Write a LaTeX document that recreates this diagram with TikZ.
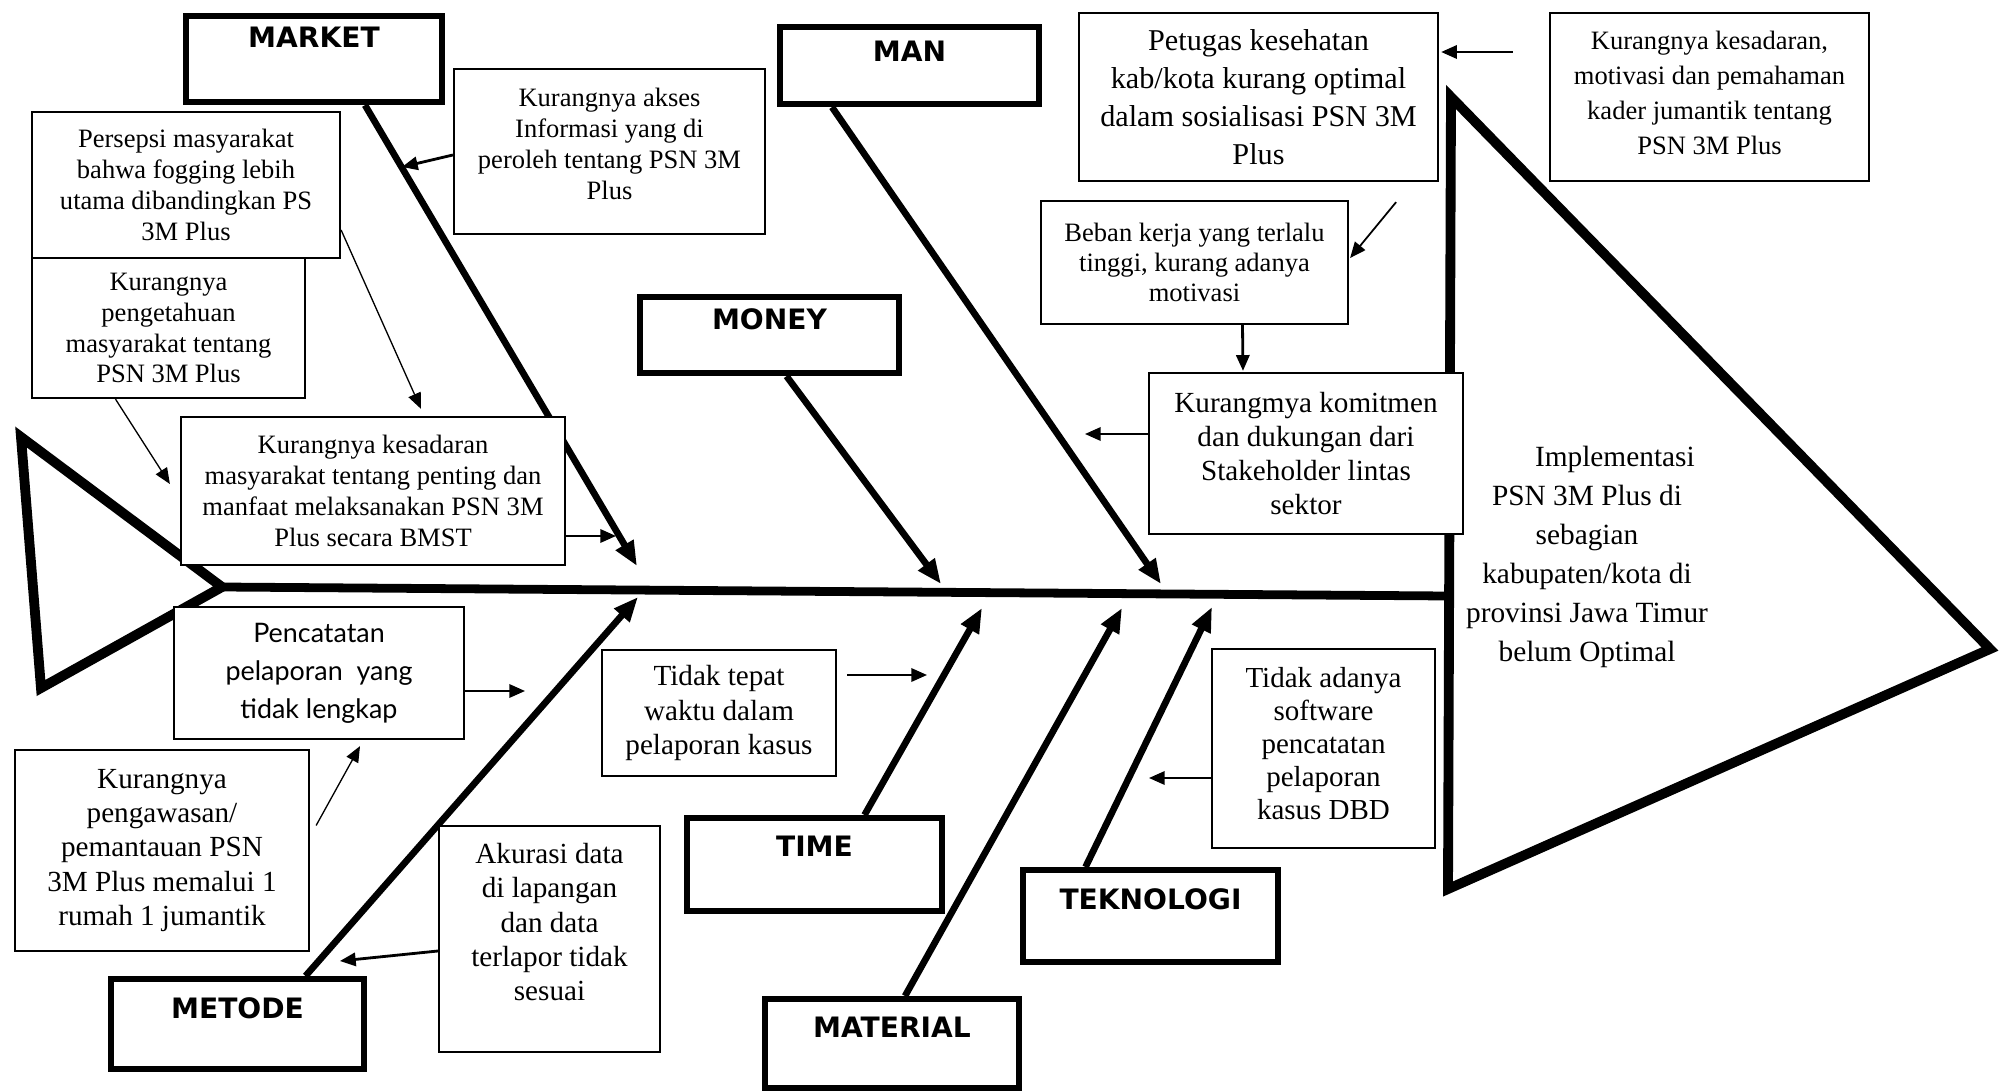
\documentclass[tikz,border=0pt]{standalone}
\usepackage{fontspec}
\setmainfont{Liberation Serif}
\newfontfamily\headfont{DejaVu Sans}
\newfontfamily\gillfont{Lato}
\usetikzlibrary{arrows.meta,calc}

\begin{document}
\begin{tikzpicture}[x=0.02cm,y=-0.02cm,>={Triangle[length=9pt,width=7.5pt]}]
\tikzstyle{cause}=[rectangle,draw,line width=1.3pt,fill=white,align=center,inner sep=0pt]
\tikzstyle{head}=[rectangle,draw,line width=3.5pt,fill=white,inner sep=0pt,anchor=north,font=\headfont\bfseries\fontsize{16}{18}\selectfont]
\tikzstyle{bone}=[line width=3.8pt,-{Triangle[length=14pt,width=11pt]}]
\tikzstyle{small}=[font=\fontsize{15.1}{17.6}\selectfont]
\tikzstyle{medium}=[font=\fontsize{16.6}{19.4}\selectfont]
\tikzstyle{link}=[->,line width=1.6pt]
\tikzstyle{thin}=[->,line width=0.75pt]
\useasboundingbox (0,0) rectangle (2002,1091);

% fish
\draw[line width=5.6pt] (21,437) -- (41,688) -- (222,587) -- cycle;
\draw[line width=5.6pt] (1451,97) -- (1990,649) -- (1448,889) -- cycle;
\draw[line width=5pt] (222,587) -- (1448,596);
\node[font=\fontsize{16.7}{22.2}\selectfont,align=center](effect) at (1587,557) {\hspace*{1.9em}Implementasi\\PSN 3M Plus di\\sebagian\\kabupaten/kota di\\provinsi Jawa Timur\\belum Optimal};

% categories
\node[head,minimum width=5.12cm,text height=0.63cm,text depth=1.09cm](market) at (314,13) {MARKET};
\node[head,minimum width=5.18cm,text height=0.69cm,text depth=0.85cm](man) at (909.5,24) {MAN};
\node[head,minimum width=5.18cm,text height=0.65cm,text depth=0.87cm](money) at (769.5,294) {MONEY};
\node[head,minimum width=5.10cm,text height=0.77cm,text depth=1.09cm](time) at (814.5,815) {TIME};
\node[head,minimum width=5.10cm,text height=0.79cm,text depth=1.05cm](teknologi) at (1150.5,867) {TEKNOLOGI};
\node[head,minimum width=5.08cm,text height=0.77cm,text depth=1.01cm](material) at (892,996) {MATERIAL};
\node[head,minimum width=5.06cm,text height=0.79cm,text depth=1.01cm](metode) at (237.5,976) {METODE};

\coordinate (mkttip) at (637,566);
\coordinate (mantip) at (1161,584);
\coordinate (montip) at (941,584);
\coordinate (mettip) at (638,597);
\coordinate (timtip) at (982,608);
\coordinate (mattip) at (1122,608);
\coordinate (tektip) at (1212,607);

\draw[bone] ($(market.south)+(51,0)$) -- (mkttip);
\draw[bone] ($(man.south)+(-77.5,0)$) -- (mantip);
\draw[bone] ($(money.south)+(17,0)$) -- (montip);
\draw[bone] ($(metode.north)+(68,0)$) -- (mettip);
\draw[bone] ($(time.north)+(50,0)$) -- (timtip);
\draw[bone] ($(material.north)+(13,0)$) -- (mattip);
\draw[bone] ($(teknologi.north)+(-65,0)$) -- (tektip);

% causes
\node[cause,small,minimum width=6.22cm,minimum height=3.3cm](akses) at (609.5,151.5) {Kurangnya akses\\Informasi yang di\\peroleh tentang PSN 3M\\Plus\\[-8.5pt]\mbox{}};
\node[cause,small,minimum width=6.16cm,minimum height=2.92cm](persepsi) at (186,185) {Persepsi masyarakat\\bahwa fogging lebih\\utama dibandingkan PS\\3M Plus};
\node[cause,small,minimum width=5.46cm,minimum height=2.8cm](pengetahuan) at (168.5,328) {Kurangnya\\pengetahuan\\masyarakat tentang\\PSN 3M Plus};
\node[cause,small,minimum width=7.68cm,minimum height=2.96cm](kesadaran) at (373,491) {Kurangnya kesadaran\\masyarakat tentang penting dan\\manfaat melaksanakan PSN 3M\\Plus secara BMST};
\node[cause,font=\fontsize{17.2}{21.6}\selectfont,minimum width=7.18cm,minimum height=3.36cm](petugas) at (1258.5,97) {Petugas kesehatan\\kab/kota kurang optimal\\dalam sosialisasi PSN 3M\\Plus};
\node[cause,font=\fontsize{15.1}{19.9}\selectfont,minimum width=6.38cm,minimum height=3.36cm](kader) at (1709.5,97) {Kurangnya kesadaran,\\motivasi dan pemahaman\\kader jumantik tentang\\PSN 3M Plus\\[-15pt]\mbox{}};
\node[cause,font=\fontsize{15.1}{17.1}\selectfont,minimum width=6.14cm,minimum height=2.46cm](beban) at (1194.5,262.5) {Beban kerja yang terlalu\\tinggi, kurang adanya\\motivasi};
\node[cause,medium,minimum width=6.28cm,minimum height=3.22cm](komitmen) at (1306,453.5) {Kurangmya komitmen\\dan dukungan dari\\Stakeholder lintas\\sektor};
\node[cause,font=\fontsize{16.5}{18.8}\selectfont,minimum width=4.46cm,minimum height=3.98cm](software) at (1323.5,748.5) {Tidak adanya\\software\\pencatatan\\pelaporan\\kasus DBD\\[-13pt]\mbox{}};
\node[cause,medium,minimum width=4.68cm,minimum height=2.52cm](tepat) at (719,713) {Tidak tepat\\waktu dalam\\pelaporan kasus};
\node[cause,font=\gillfont\fontsize{15.3}{21.6}\selectfont,minimum width=5.8cm,minimum height=2.64cm](pencatatan) at (319,673) {Pencatatan\\pelaporan\ \ yang\\tidak lengkap};
\node[cause,medium,minimum width=5.88cm,minimum height=4.02cm](pengawasan) at (162,850.5) {Kurangnya\\pengawasan/\\pemantauan PSN\\3M Plus memalui 1\\rumah 1 jumantik};
\node[cause,medium,minimum width=4.42cm,minimum height=4.52cm](akurasi) at (549.5,939) {Akurasi data\\di lapangan\\dan data\\terlapor tidak\\sesuai\\\mbox{}};

% links
\draw[link] ($(kader.west)+(-36,-45)$) -- ($(petugas.east)+(2,-45)$);
\draw[->,line width=1pt] ($(petugas.south east)+(-43,20)$) -- ($(beban.east)+(1,-4.5)$);
\draw[link] ($(beban.south)+(48,0)$) -- ($(komitmen.north)+(-63,-1)$);
\draw[link] ($(komitmen.west)+(0,-19.5)$) -- ($(komitmen.west)+(-63,-19.5)$);
\draw[link] ($(akses.west)+(0,3.5)$) -- ($(akses.west)+(-51,15.5)$);
\draw[thin] ($(persepsi.east)+(0,45)$) -- ($(kesadaran.north)+(48,-7)$);
\draw[thin] ($(pengetahuan.south)+(-53,0)$) -- ($(kesadaran.west)+(-10,-7)$);
\draw[link] ($(kesadaran.east)+(0,45)$) -- ($(kesadaran.east)+(50,45)$);
\draw[link] ($(pencatatan.east)+(0,18)$) -- ($(pencatatan.east)+(60,18)$);
\draw[thin] ($(pengawasan.east)+(6,-25)$) -- ($(pencatatan.south)+(41,6)$);
\draw[link] ($(akurasi.west)+(0,12)$) -- ($(akurasi.west)+(-98,22)$);
\draw[link] ($(tepat.east)+(10,-38)$) -- ($(tepat.east)+(90,-38)$);
\draw[link] ($(software.west)+(0,29.5)$) -- ($(software.west)+(-62,29.5)$);
\end{tikzpicture}
\end{document}
